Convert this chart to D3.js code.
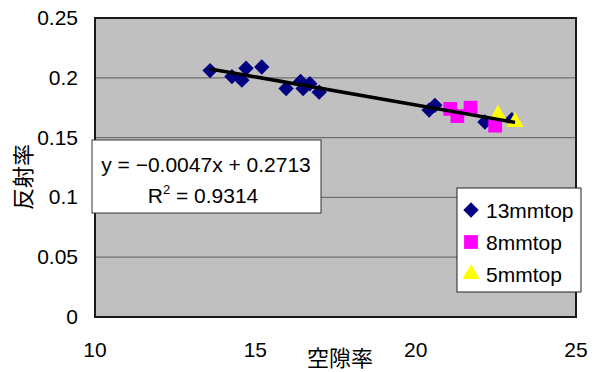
<!DOCTYPE html>
<meta charset="utf-8">
<html>
<body style="margin:0;background:#fff">
<div id="chart"></div>
<script src="https://cdn.jsdelivr.net/npm/d3@7"></script>
<script>
// data: [空隙率, 反射率]
var s13 = [[13.59,0.206],[14.27,0.201],[14.58,0.198],[14.71,0.208],[15.2,0.209],
           [15.96,0.191],[16.41,0.197],[16.49,0.191],[16.7,0.195],[16.99,0.188],
           [20.42,0.173],[20.6,0.177],[22.16,0.163],[23.0,0.165]];
var s8 = [[21.08,0.174],[21.3,0.168],[21.71,0.175],[22.48,0.160]];
var s5 = [[22.57,0.169],[23.1,0.163]];
var seriesNames = ["13mmtop", "8mmtop", "5mmtop"];
var xTicks = [10, 15, 20, 25];
var yTicks = [0, 0.05, 0.1, 0.15, 0.2, 0.25];
var slope = -0.0047, intercept = 0.2713, r2 = "0.9314";

var W = 595, H = 372;
var svg = d3.select("#chart").append("svg").attr("width", W).attr("height", H);
var font = "'Liberation Sans', Arial, sans-serif";
var jfont = "'Noto Sans CJK JP', sans-serif";

var x = d3.scaleLinear().domain([10, 25]).range([95, 576]);
var y = d3.scaleLinear().domain([0, 0.25]).range([317, 18]);

// plot area
svg.append("rect").attr("x", 95).attr("y", 18).attr("width", 481).attr("height", 299)
  .attr("fill", "#c0c0c0");

svg.selectAll(".grid").data(yTicks.slice(1, -1)).enter().append("line")
  .attr("x1", 95).attr("x2", 576)
  .attr("y1", function (d) { return y(d); }).attr("y2", function (d) { return y(d); })
  .attr("stroke", "#707070").attr("stroke-width", 1.2);

svg.append("rect").attr("x", 95).attr("y", 18).attr("width", 481).attr("height", 299)
  .attr("fill", "none").attr("stroke", "#1a1a1a").attr("stroke-width", 2);

// tick labels
svg.selectAll(".yl").data(yTicks).enter().append("text")
  .attr("x", 78).attr("y", function (d) { return y(d) + 7; })
  .attr("text-anchor", "end").style("font-family", font).style("font-size", "21px")
  .text(function (d) { return d; });

svg.selectAll(".xl").data(xTicks).enter().append("text")
  .attr("x", function (d) { return x(d); }).attr("y", 357)
  .attr("text-anchor", "middle").style("font-family", font).style("font-size", "21px")
  .text(function (d) { return d; });

// axis titles
svg.append("text").attr("x", 340).attr("y", 366).attr("text-anchor", "middle")
  .style("font-family", jfont).style("font-size", "22px").text("空隙率");
svg.append("text").attr("transform", "translate(31,177) rotate(-90)").attr("text-anchor", "middle")
  .style("font-family", jfont).style("font-size", "22px").text("反射率");

// markers
var diamond = d3.symbol().type(d3.symbolSquare).size(118);
var square = d3.symbol().type(d3.symbolSquare).size(190);
var tri = d3.symbol().type(d3.symbolTriangle).size(130);

svg.selectAll(".d13").data(s13).enter().append("path")
  .attr("d", diamond)
  .attr("transform", function (d) { return "translate(" + x(d[0]) + "," + y(d[1]) + ") rotate(45)"; })
  .attr("fill", "#000080");
svg.selectAll(".d8").data(s8).enter().append("path")
  .attr("d", square)
  .attr("transform", function (d) { return "translate(" + x(d[0]) + "," + y(d[1]) + ")"; })
  .attr("fill", "#ff00ff");
svg.selectAll(".d5").data(s5).enter().append("path")
  .attr("d", tri)
  .attr("transform", function (d) { return "translate(" + x(d[0]) + "," + y(d[1]) + ")"; })
  .attr("fill", "#ffff00");

// trend line
var all = s13.concat(s8, s5);
var xr = d3.extent(all, function (d) { return d[0]; });
svg.append("line")
  .attr("x1", x(xr[0])).attr("y1", y(slope * xr[0] + intercept))
  .attr("x2", x(xr[1])).attr("y2", y(slope * xr[1] + intercept))
  .attr("stroke", "#000").attr("stroke-width", 3.5);

// equation label
svg.append("rect").attr("x", 92).attr("y", 140).attr("width", 229).attr("height", 73)
  .attr("fill", "#fff").attr("stroke", "#333").attr("stroke-width", 1);
svg.append("text").attr("x", 206).attr("y", 172).attr("text-anchor", "middle")
  .style("font-family", font).style("font-size", "21px")
  .text("y = \u22120.0047x + " + intercept);
var r2t = svg.append("text").attr("x", 203).attr("y", 203).attr("text-anchor", "middle")
  .style("font-family", font).style("font-size", "21px");
r2t.append("tspan").text("R");
r2t.append("tspan").attr("dy", -9).style("font-size", "13px").text("2");
r2t.append("tspan").attr("dy", 9).text(" = " + r2);

// legend
svg.append("rect").attr("x", 457).attr("y", 188).attr("width", 124).attr("height", 104)
  .attr("fill", "#fff").attr("stroke", "#222").attr("stroke-width", 1);
var legSyms = [diamond, square, tri];
var legCols = ["#000080", "#ff00ff", "#ffff00"];
seriesNames.forEach(function (name, i) {
  var cy = 210 + i * 32;
  svg.append("path").attr("d", legSyms[i])
    .attr("transform", "translate(471," + cy + ")" + (i === 0 ? " rotate(45)" : ""))
    .attr("fill", legCols[i]);
  svg.append("text").attr("x", 486).attr("y", cy + 8)
    .style("font-family", font).style("font-size", "21px").text(name);
});
</script>
</body>
</html>
